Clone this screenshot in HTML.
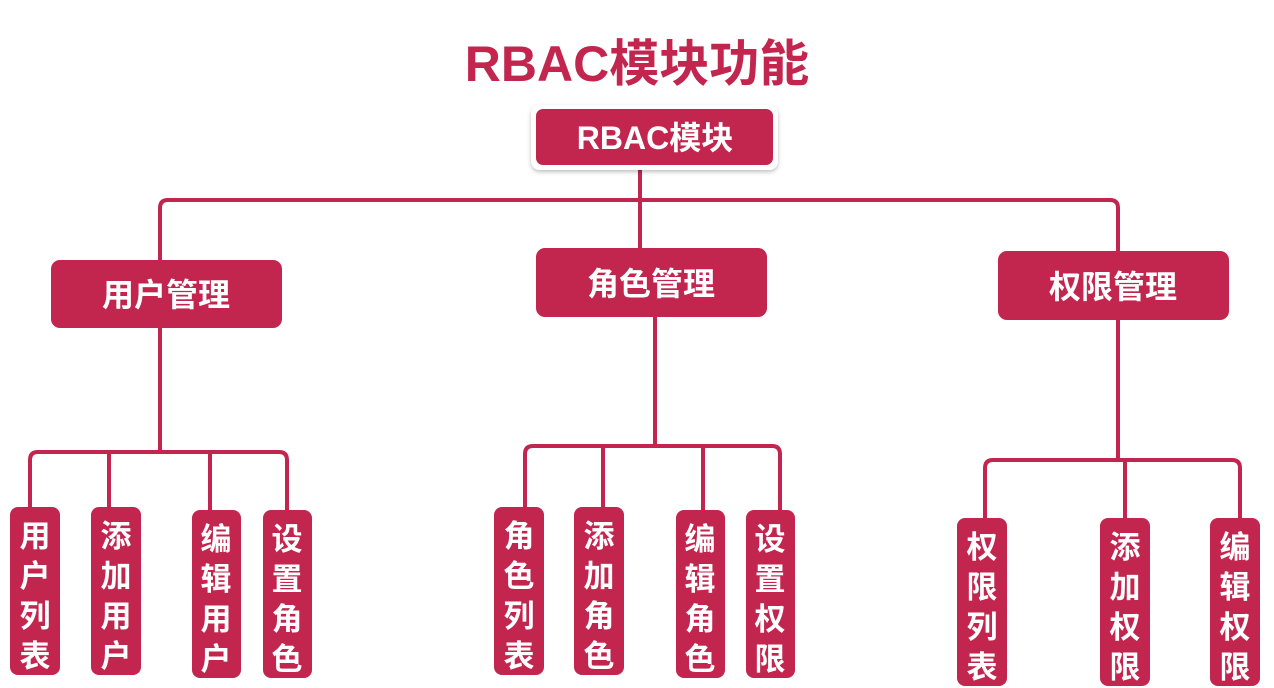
<!DOCTYPE html>
<html><head><meta charset="utf-8"><style>
html,body{margin:0;padding:0;background:#fff;}
svg{display:block;}
text{font-family:"Liberation Sans","Noto Sans CJK SC",sans-serif;font-weight:bold;}
</style></head><body>
<svg width="1274" height="688" viewBox="0 0 1274 688" xmlns="http://www.w3.org/2000/svg">
<defs><filter id="sh" x="-10%" y="-20%" width="120%" height="150%"><feDropShadow dx="0" dy="2" stdDeviation="2" flood-color="#000" flood-opacity="0.25"/></filter></defs>
<text x="637" y="81" text-anchor="middle" font-size="50" fill="#c2264f">RBAC模块功能</text>
<g fill="none" stroke="#c2264f" stroke-width="4">
<path d="M640 168 V200"/>
<path d="M160 260 V208 Q160 200 168 200 H1110 Q1118 200 1118 208 V251"/>
<path d="M640 200 V248"/>
<path d="M160 328 V452"/>
<path d="M30 508 V460 Q30 452 38 452 H279 Q287 452 287 460 V510"/>
<path d="M109 452 V508 M210 452 V510"/>
<path d="M655 317 V446"/>
<path d="M525 507 V454 Q525 446 533 446 H772 Q780 446 780 454 V510"/>
<path d="M603 446 V507 M703 446 V510"/>
<path d="M1118 320 V460"/>
<path d="M985 518 V468 Q985 460 993 460 H1232 Q1240 460 1240 468 V518"/>
<path d="M1125 460 V518"/>
</g>
<rect x="531" y="105" width="247" height="65" rx="9" fill="#fff" filter="url(#sh)"/>
<rect x="536" y="109" width="237" height="56" rx="7" fill="#c2264f"/>
<text x="655" y="149" text-anchor="middle" font-size="32" fill="#fff">RBAC模块</text>
<g fill="#c2264f">
<rect x="51" y="260" width="231" height="68" rx="9"/>
<rect x="536" y="248" width="231" height="69" rx="9"/>
<rect x="998" y="251" width="231" height="69" rx="9"/>
</g>
<g font-size="32" fill="#fff" text-anchor="middle">
<text x="166" y="306">用户管理</text>
<text x="651" y="295">角色管理</text>
<text x="1113" y="298">权限管理</text>
</g>
<g fill="#c2264f">
<rect x="10" y="507" width="50" height="168" rx="8"/>
<rect x="91" y="507" width="50" height="168" rx="8"/>
<rect x="192" y="510" width="49" height="168" rx="8"/>
<rect x="263" y="510" width="49" height="168" rx="8"/>
<rect x="494" y="507" width="50" height="168" rx="8"/>
<rect x="574" y="507" width="50" height="168" rx="8"/>
<rect x="676" y="510" width="49" height="168" rx="8"/>
<rect x="746" y="510" width="49" height="168" rx="8"/>
<rect x="957" y="518" width="50" height="168" rx="8"/>
<rect x="1100" y="518" width="50" height="168" rx="8"/>
<rect x="1210" y="518" width="50" height="168" rx="8"/>
</g>
<g font-size="31" fill="#fff" text-anchor="middle">
<g transform="translate(35,507)"><text y="40">用</text><text y="80">户</text><text y="120">列</text><text y="160">表</text></g>
<g transform="translate(116,507)"><text y="40">添</text><text y="80">加</text><text y="120">用</text><text y="160">户</text></g>
<g transform="translate(216,510)"><text y="40">编</text><text y="80">辑</text><text y="120">用</text><text y="160">户</text></g>
<g transform="translate(287,510)"><text y="40">设</text><text y="80">置</text><text y="120">角</text><text y="160">色</text></g>
<g transform="translate(519,507)"><text y="40">角</text><text y="80">色</text><text y="120">列</text><text y="160">表</text></g>
<g transform="translate(599,507)"><text y="40">添</text><text y="80">加</text><text y="120">角</text><text y="160">色</text></g>
<g transform="translate(700,510)"><text y="40">编</text><text y="80">辑</text><text y="120">角</text><text y="160">色</text></g>
<g transform="translate(770,510)"><text y="40">设</text><text y="80">置</text><text y="120">权</text><text y="160">限</text></g>
<g transform="translate(982,518)"><text y="40">权</text><text y="80">限</text><text y="120">列</text><text y="160">表</text></g>
<g transform="translate(1125,518)"><text y="40">添</text><text y="80">加</text><text y="120">权</text><text y="160">限</text></g>
<g transform="translate(1235,518)"><text y="40">编</text><text y="80">辑</text><text y="120">权</text><text y="160">限</text></g>
</g>
</svg>
</body></html>
